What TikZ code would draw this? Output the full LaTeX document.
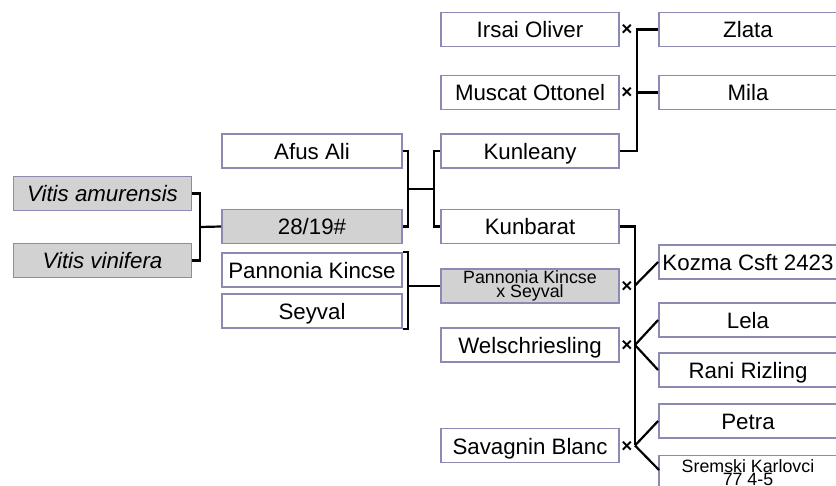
\documentclass[tikz,border=0pt]{standalone}
\usepackage{fontspec}
\setmainfont{Liberation Sans}
\definecolor{boxc}{HTML}{8A8AB2}
\definecolor{grayf}{HTML}{D2D2D2}
\begin{document}
\begin{tikzpicture}[x=1pt,y=-1pt,
  bx/.style={draw=boxc, line width=1.8pt, fill=white, minimum height=34pt, inner sep=0pt,
    text height=17.5pt, text depth=0.5pt,
    font=\fontsize{22.3}{24}\selectfont},
  w178/.style={minimum width=178pt},
  w180/.style={minimum width=180pt},
  gbx/.style={bx, fill=grayf},
  small/.style={font=\fontsize{17.8}{12}\selectfont, align=center, text height=, text depth=},
  ln/.style={line width=2.2pt, black},
  crs/.style={font=\fontsize{19}{19}\selectfont\bfseries, inner sep=0pt}]
\useasboundingbox (0,0) rectangle (836,486);
\fill[white] (0,0) rectangle (836,486);
% column 1
\node[gbx, w178] (am) at (102.5,193.5) {\itshape Vitis amurensis};
\node[gbx, w178] (vin) at (102.5,260.5) {\itshape Vitis vinifera};
% column 2
\node[bx, w180] (afus) at (312,151) {Afus Ali};
\node[gbx, w180] (c28) at (312,226.5) {28/19\#};
\node[bx, w180] (pk) at (312,270) {Pannonia Kincse};
\node[bx, w180] (sey) at (312,311) {Seyval};
% column 3
\node[bx, w178] (irsai) at (530,29.5) {Irsai Oliver};
\node[bx, w178] (musc) at (530,92.5) {Muscat Ottonel};
\node[bx, w178] (kunl) at (530,151) {Kunleany};
\node[bx, w178] (kunb) at (530,226.5) {Kunbarat};
\node[gbx, w178, small] (pkxs) at (530,286) {Pannonia Kincse\\x Seyval};
\node[bx, w178] (wel) at (530,345) {Welschriesling};
\node[bx, w178] (sav) at (530,445.5) {Savagnin Blanc};
% column 4
\node[bx, w178] (zl) at (748,29.5) {Zlata};
\node[bx, w178] (mila) at (748,92.5) {Mila};
\node[bx, w178] (koz) at (748,262) {Kozma Csft 2423};
\node[bx, w178] (lela) at (748,320) {Lela};
\node[bx, w178] (rani) at (748,370) {Rani Rizling};
\node[bx, w178] (petra) at (748,421) {Petra};
\node[bx, w178, small] (srem) at (748,472.5) {Sremski Karlovci\\77 4-5};
% cross marks
\node[crs] (x1) at (627,30) {×};
\node[crs] (x2) at (627,93) {×};
\node[crs] (x3) at (627,287) {×};
\node[crs] (x4) at (627,346) {×};
\node[crs] (x5) at (627,447) {×};
% junction coordinates
\coordinate (j1) at (200,227);
\coordinate (j2) at (408,189);
\coordinate (j3) at (434,189);
\coordinate (j4) at (408,286);
\coordinate (j5) at (637,151);
\coordinate (j6) at (635,226.5);
\coordinate (k1) at (635,285.5);
\coordinate (k2) at (635,345);
\coordinate (k3) at (635,445.5);
\coordinate (s1) at (659,470);
% connectors
\draw[ln] (am.east) -| (j1) |- (vin.east);
\draw[ln] (j1) -- (c28.west);
\draw[ln] (afus.east) -| (j2) |- (c28.east);
\draw[ln] (j2) -- (j3);
\draw[ln] (kunl.west) -| (j3) |- (kunb.west);
\draw[ln] (pk.north east) -| (j4) |- (sey.south east);
\draw[ln] (j4) -- (j4 -| pkxs.west);
\draw[ln] (kunl.east) -- (j5) |- (zl.west);
\draw[ln] (j5 |- mila.west) -- (mila.west);
\draw[ln] (kunb.east) -- (j6) -- (k3);
\draw[ln] (k1) -- (koz.west);
\draw[ln] (k2) -- (lela.west);
\draw[ln] (k2) -- (rani.west);
\draw[ln] (k3) -- (petra.west);
\draw[ln] (k3) -- (s1);
\end{tikzpicture}
\end{document}
